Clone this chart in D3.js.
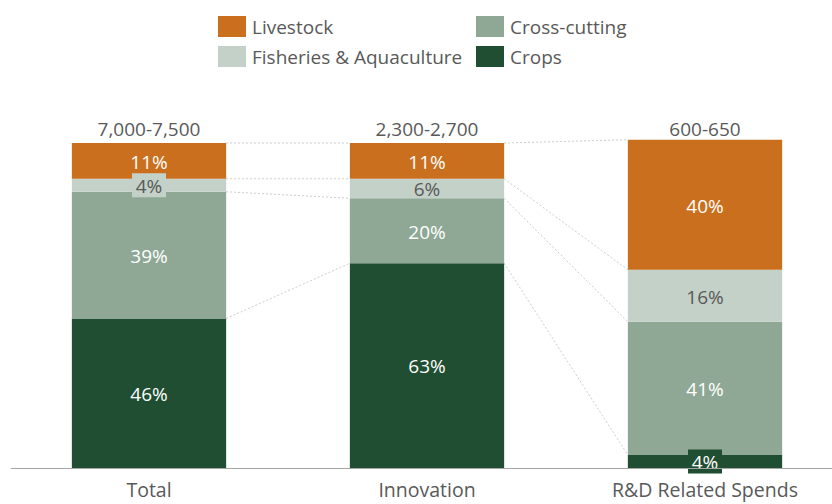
<!DOCTYPE html>
<html>
<head>
<meta charset="utf-8">
<script src="https://cdn.jsdelivr.net/npm/d3@7"></script>
<style>
  body { margin: 0; background: #fff; }
  text { font-family: "Open Sans", "Noto Sans", sans-serif; }
</style>
</head>
<body>
<div id="chart"></div>
<script>
// data (percent share of each spend bucket)
var categories = ["Total", "Innovation", "R&D Related Spends"];
var totals = ["7,000-7,500", "2,300-2,700", "600-650"];
var crops = [46, 63, 4];
var crossCutting = [39, 20, 41];
var fisheries = [4, 6, 16];
var livestock = [11, 11, 40];

var seriesNames = ["Crops", "Cross-cutting", "Fisheries & Aquaculture", "Livestock"];
var seriesValues = [crops, crossCutting, fisheries, livestock];
var colors = ["#1f4e33", "#8fa896", "#c3d1c8", "#ca6f1e"];
var labelColors = ["#ffffff", "#ffffff", "#595959", "#ffffff"];

var width = 832, height = 504;

var svg = d3.select("#chart")
  .append("svg")
  .attr("width", width)
  .attr("height", height);

var x = d3.scaleBand()
  .domain(categories)
  .range([10, 844])
  .paddingInner(0.445)
  .paddingOuter(0.2225);

var y = d3.scaleLinear()
  .domain([0, 100])
  .range([468, 143]);

// build rows for the stack
var rows = categories.map(function (c, i) {
  var r = { cat: c };
  seriesNames.forEach(function (s, k) { r[s] = seriesValues[k][i]; });
  return r;
});

var stacked = d3.stack().keys(seriesNames)(rows);

// dashed connectors between neighbouring bars
var conn = svg.append("g");
for (var i = 0; i < categories.length - 1; i++) {
  stacked.forEach(function (layer) {
    conn.append("line")
      .attr("x1", x(categories[i]) + x.bandwidth())
      .attr("y1", y(layer[i][1]))
      .attr("x2", x(categories[i + 1]))
      .attr("y2", y(layer[i + 1][1]))
      .attr("stroke", "#bfbfbf")
      .attr("stroke-width", 0.8)
      .attr("stroke-dasharray", "2,2");
  });
}

// bars
svg.append("g")
  .selectAll("g")
  .data(stacked)
  .enter().append("g")
  .attr("fill", function (d, k) { return colors[k]; })
  .selectAll("rect")
  .data(function (d) { return d; })
  .enter().append("rect")
  .attr("x", function (d) { return x(d.data.cat); })
  .attr("y", function (d) { return y(d[1]); })
  .attr("height", function (d) { return y(d[0]) - y(d[1]); })
  .attr("width", x.bandwidth());

// segment labels
stacked.forEach(function (layer, k) {
  layer.forEach(function (d) {
    var cx = x(d.data.cat) + x.bandwidth() / 2;
    var cy = (y(d[0]) + y(d[1])) / 2;
    var h = y(d[0]) - y(d[1]);
    if (h < 18) {
      svg.append("rect")
        .attr("x", cx - 17)
        .attr("y", cy - 12)
        .attr("width", 34)
        .attr("height", 24)
        .attr("fill", colors[k]);
    }
    svg.append("text")
      .attr("x", cx)
      .attr("y", cy + 1)
      .attr("dy", "0.36em")
      .attr("text-anchor", "middle")
      .attr("font-size", 19)
      .attr("fill", labelColors[k])
      .text(d.data[layer.key] + "%");
  });
});

// totals on top
var topLayer = stacked[stacked.length - 1];
svg.append("g")
  .selectAll("text")
  .data(topLayer)
  .enter().append("text")
  .attr("x", function (d) { return x(d.data.cat) + x.bandwidth() / 2; })
  .attr("y", y(100) - 7)
  .attr("text-anchor", "middle")
  .attr("font-size", 19)
  .attr("fill", "#595959")
  .text(function (d, i) { return totals[i]; });

// x axis
var xAxis = svg.append("g")
  .attr("transform", "translate(0,468.5)")
  .call(d3.axisBottom(x).tickSize(0).tickPadding(15));
xAxis.select(".domain").attr("stroke", "#a6a6a6").attr("d", "M11,0H832");
xAxis.selectAll("text")
  .attr("font-size", 19.5)
  .attr("font-family", "Open Sans, Noto Sans, sans-serif")
  .attr("fill", "#595959");

// legend
var legendItems = [
  { name: "Livestock", k: 3, x: 218, y: 16 },
  { name: "Cross-cutting", k: 1, x: 476, y: 16 },
  { name: "Fisheries & Aquaculture", k: 2, x: 218, y: 46 },
  { name: "Crops", k: 0, x: 476, y: 46 }
];
var legend = svg.append("g");
legendItems.forEach(function (it) {
  legend.append("rect")
    .attr("x", it.x)
    .attr("y", it.y)
    .attr("width", 28)
    .attr("height", 21)
    .attr("fill", colors[it.k]);
  legend.append("text")
    .attr("x", it.x + 34)
    .attr("y", it.y + 11.5)
    .attr("dy", "0.36em")
    .attr("font-size", 19)
    .attr("fill", "#595959")
    .text(it.name);
});
</script>
</body>
</html>
